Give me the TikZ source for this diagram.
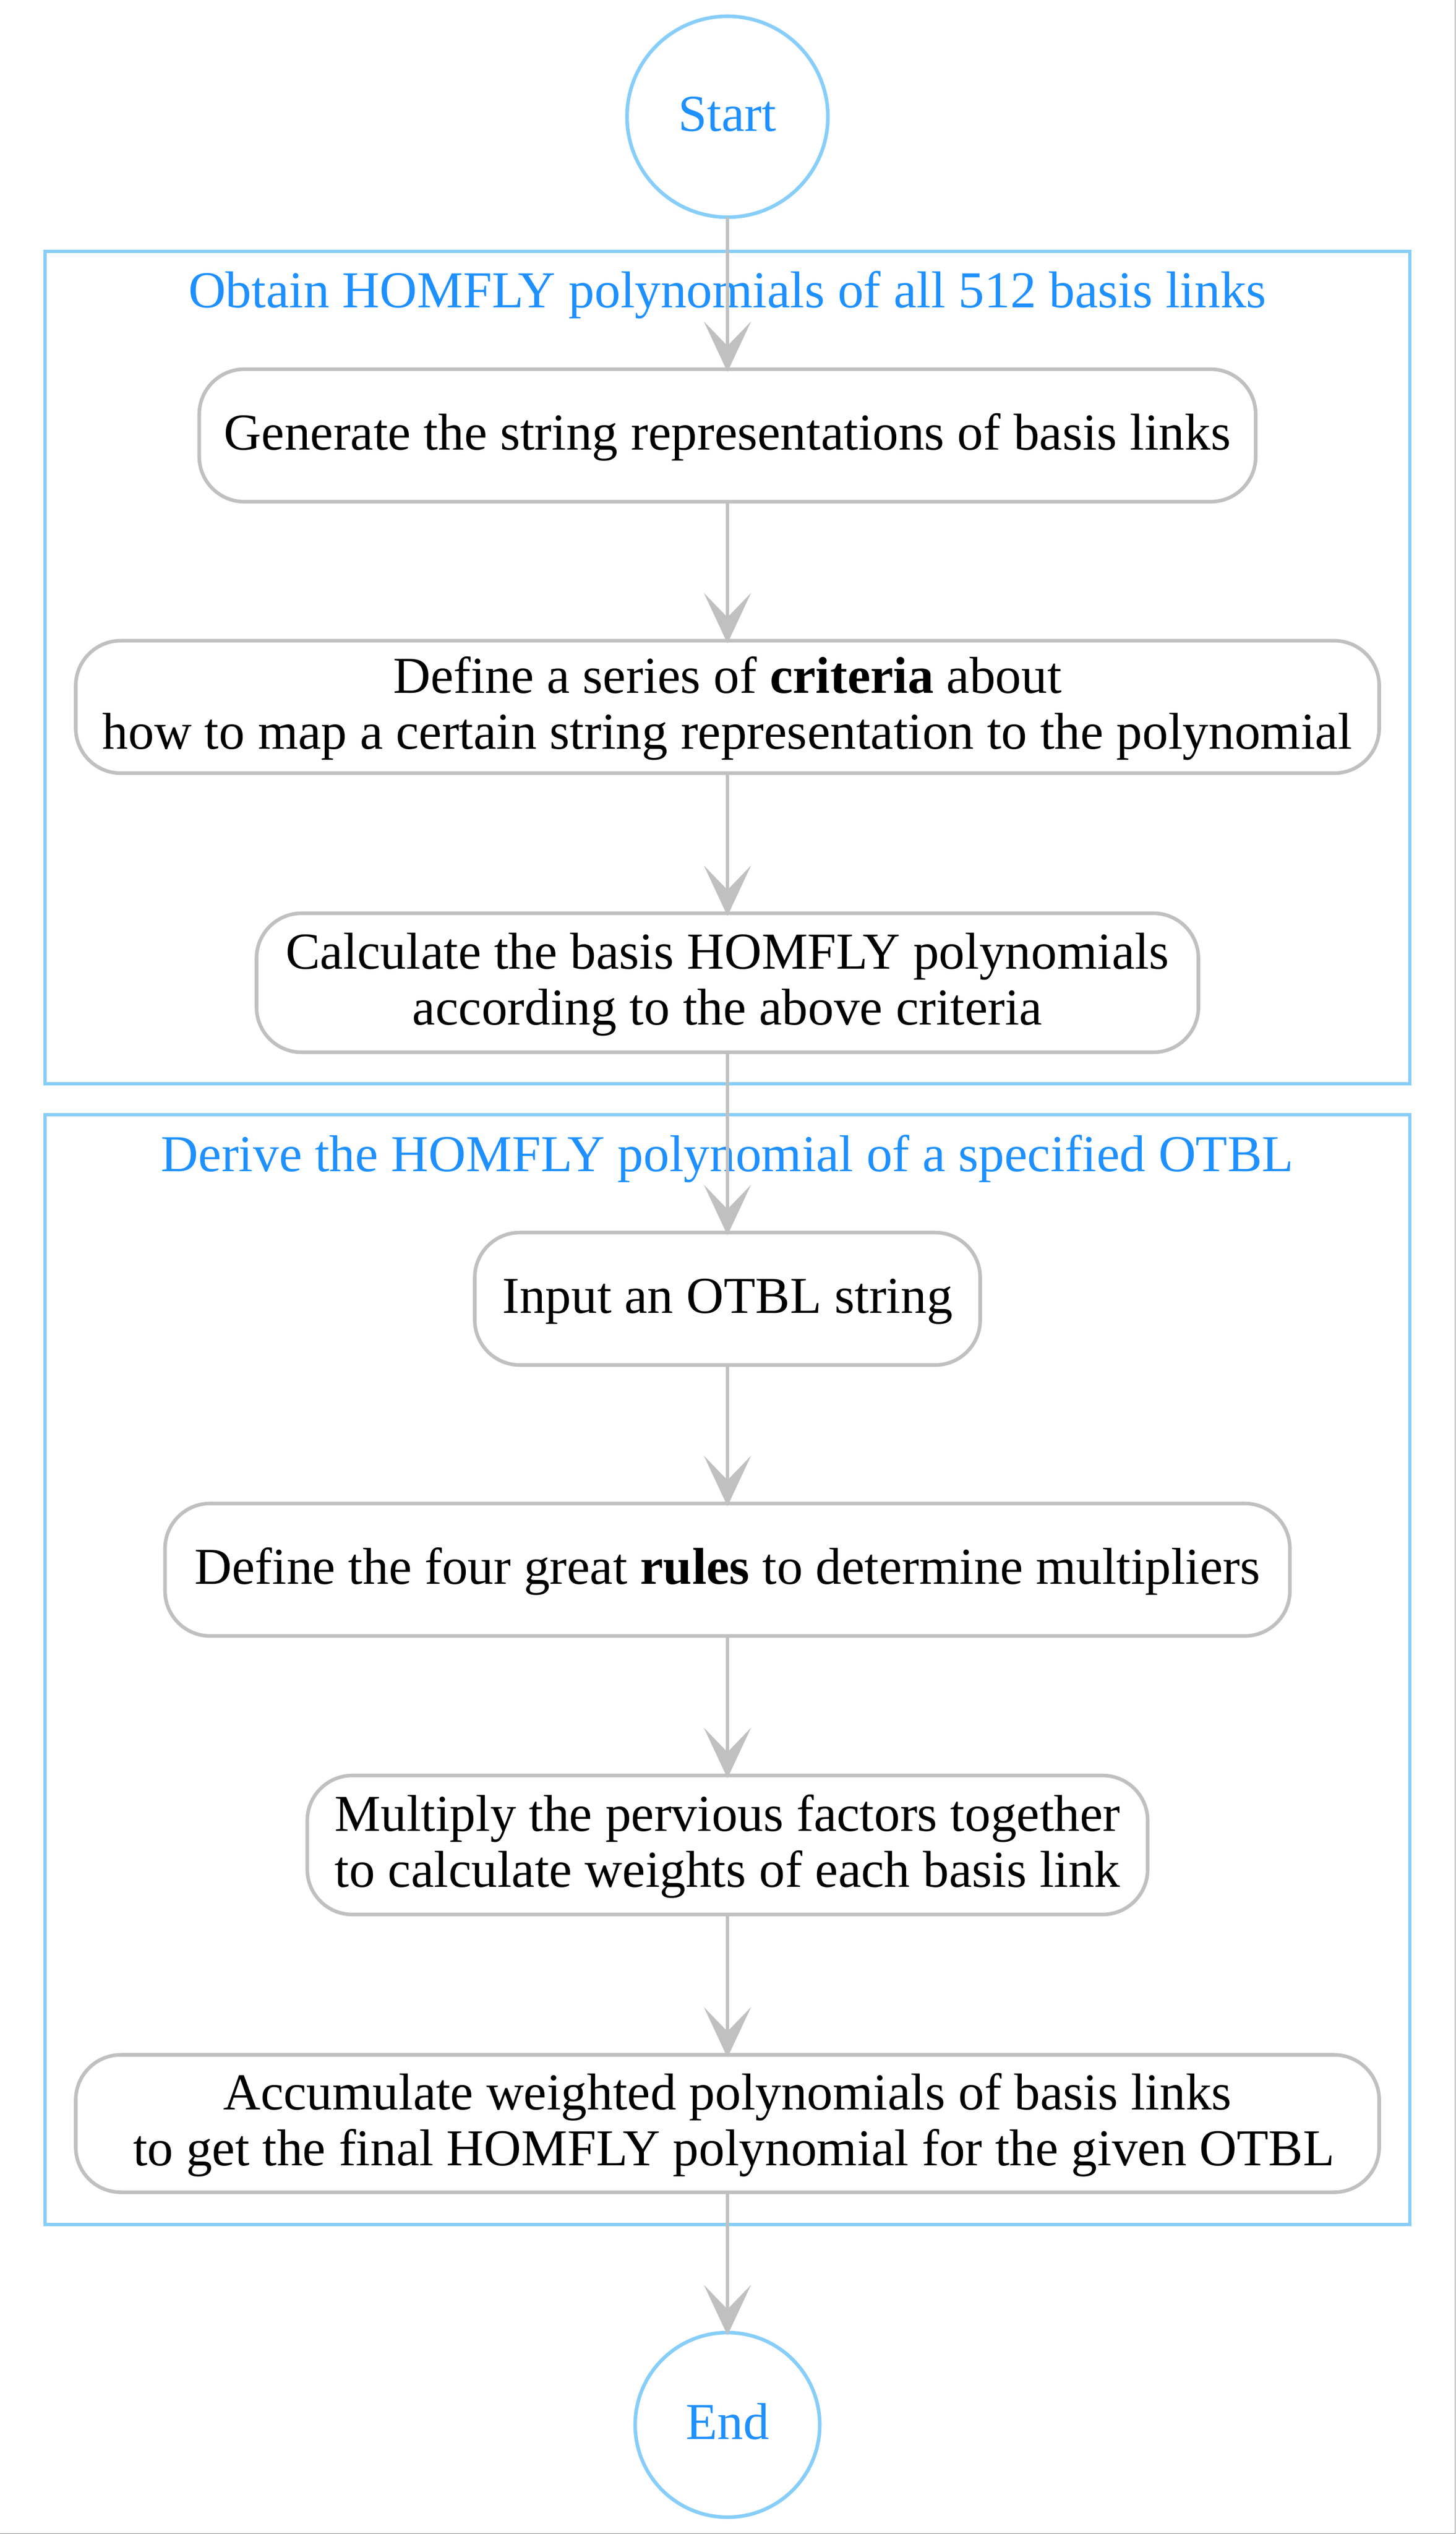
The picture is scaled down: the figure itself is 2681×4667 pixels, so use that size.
\documentclass[tikz,border=0pt]{standalone}
\usepackage{fontspec}
\setmainfont{Liberation Serif}
\usetikzlibrary{arrows.meta}
\definecolor{edgegray}{HTML}{C0C0C0}
\definecolor{clusterblue}{HTML}{87CEFA}
\definecolor{labelblue}{HTML}{1E90FF}
\definecolor{framegray}{HTML}{8C8C8C}
\newcommand\lstrut{\rule[-0.25em]{0pt}{1.05em}}
\tikzset{
  every node/.style={font=\fontsize{23.85}{25.75}\selectfont},
  stepbox/.style={draw=edgegray, line width=1.65pt, rounded corners=20.75pt,
    inner sep=0pt, outer sep=0pt, align=center},
  termnode/.style={circle, draw=clusterblue, line width=1.65pt, text=labelblue,
    inner sep=0pt, outer sep=0pt},
  clusterbox/.style={draw=clusterblue, line width=1.65pt, inner sep=0pt, outer sep=0pt},
  clusterlabel/.style={text=labelblue, anchor=base, inner sep=0pt},
  flow/.style={draw=edgegray, line width=1.6pt,
    -{Stealth[length=23.25pt, width=21.75pt, inset=11.25pt, line width=0pt]},
    shorten >=-1.25pt},
}
\begin{document}
\begin{tikzpicture}[x=0.25pt, y=-0.25pt]
\useasboundingbox (0,0) rectangle (2681,4667);
\fill[white] (0,0) rectangle (2681,4667);
% page edge
\draw[framegray, line width=0.3pt] (2680.4,0) -- (2680.4,4666.4) -- (0,4666.4);
% clusters
\node[clusterbox, minimum width=628.5pt, minimum height=383.25pt] (cl1) at (1340,1229.5) {};
\node[clusterbox, minimum width=628.5pt, minimum height=511pt] (cl2) at (1340,3075) {};
\node[clusterlabel] (cl1label) at (1340,566) {Obtain HOMFLY polynomials of all 512 basis links};
\node[clusterlabel] (cl2label) at (1340,2157) {Derive the HOMFLY polynomial of a specified OTBL};
% terminals
\node[termnode, minimum size=92.5pt] (start) at (1340,215) {\lstrut Start};
\node[termnode, minimum size=85pt] (end) at (1340,4466) {\lstrut End};
% steps
\node[stepbox, minimum width=486.5pt, minimum height=61pt] (n1) at (1340,802)
  {\lstrut Generate the string representations of basis links};
\node[stepbox, minimum width=600.25pt, minimum height=61pt] (n2) at (1340,1302)
  {\lstrut Define a series of \textbf{criteria} about\\ \lstrut how to map a certain string representation to the polynomial};
\node[stepbox, minimum width=433.75pt, minimum height=64pt] (n3) at (1340,1810)
  {\lstrut Calculate the basis HOMFLY polynomials\\ \lstrut according to the above criteria};
\node[stepbox, minimum width=232.75pt, minimum height=61pt] (n4) at (1340,2392)
  {\lstrut Input an OTBL string};
\node[stepbox, minimum width=518pt, minimum height=61pt] (n5) at (1340,2891)
  {\lstrut Define the four great \textbf{rules} to determine multipliers};
\node[stepbox, minimum width=387pt, minimum height=64pt] (n6) at (1340,3398)
  {\lstrut Multiply the pervious factors together\\ \lstrut to calculate weights of each basis link};
\node[stepbox, minimum width=600.25pt, minimum height=63.25pt] (n7) at (1340,3911)
  {\lstrut Accumulate weighted polynomials of basis links\\ \lstrut\hspace*{0.25em}to get the final HOMFLY polynomial for the given OTBL};
% connectors
\draw[flow] (start) -- (n1);
\draw[flow] (n1) -- (n2);
\draw[flow] (n2) -- (n3);
\draw[flow] (n3) -- (n4);
\draw[flow] (n4) -- (n5);
\draw[flow] (n5) -- (n6);
\draw[flow] (n6) -- (n7);
\draw[flow] (n7) -- (end);
\end{tikzpicture}
\end{document}
